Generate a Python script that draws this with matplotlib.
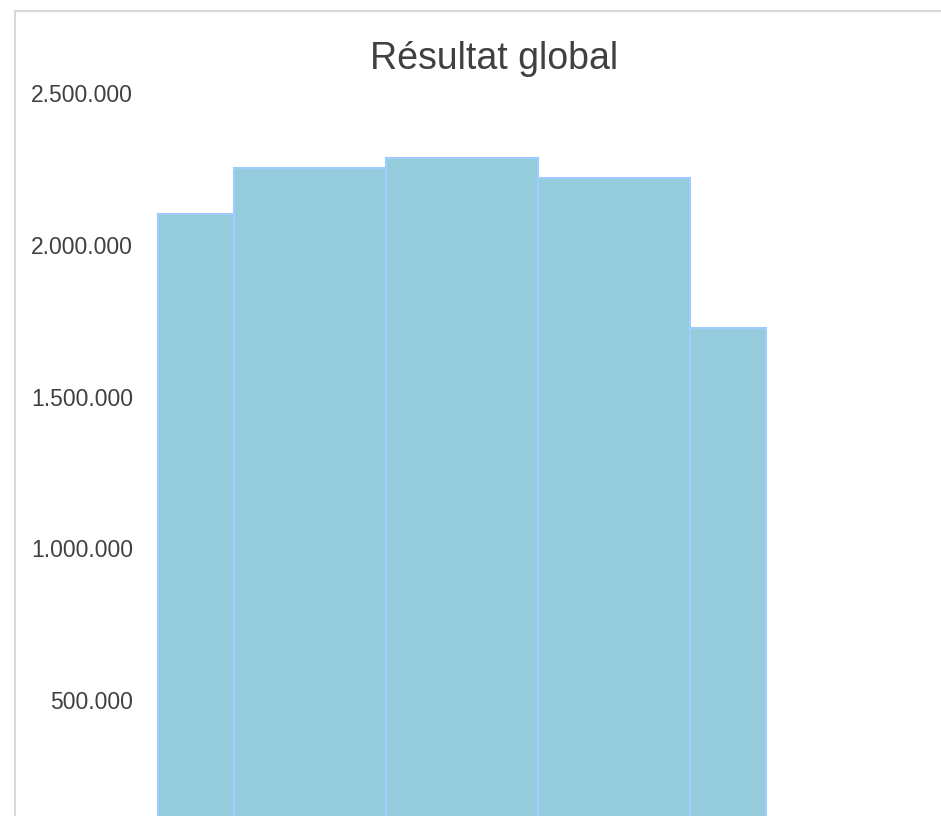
import numpy as np
import matplotlib.pyplot as plt
from matplotlib.ticker import FuncFormatter
from matplotlib.lines import Line2D

plt.rcParams['font.family'] = ['Liberation Sans', 'DejaVu Sans']

title = 'Résultat global'
categories = ['1', '2', '3', '4', '5']
values = [2101000, 2253000, 2286000, 2222000, 1727000]
yticks = [500000, 1000000, 1500000, 2000000, 2500000]

W, H = 941, 816
fig = plt.figure(figsize=(W / 100, H / 100), dpi=100)

# grey frame (top and left edges only are visible)
fig.add_artist(Line2D([15 / W, 15 / W], [0, 1 - 11 / H], color='#d9d9d9', lw=1.5))
fig.add_artist(Line2D([15 / W, 1], [1 - 11 / H, 1 - 11 / H], color='#d9d9d9', lw=1.5))

ax = fig.add_axes([158 / W, 0, (766 - 158) / W, 1 - 93.3 / H])

n = len(values)
x = np.arange(n)
left = np.clip(x - 0.5, 0, n - 1)
right = np.clip(x + 0.5, 0, n - 1)
ax.bar(left, values, width=right - left, align='edge',
       color='#94ccdc', edgecolor='#a0ccff', linewidth=1.5, clip_on=False)

ax.set_xlim(0, n - 1)
ax.set_ylim(118000, 2500000)
ax.set_yticks(yticks)
ax.yaxis.set_major_formatter(FuncFormatter(lambda v, p: f'{int(v):,}'.replace(',', '.')))
ax.tick_params(axis='y', length=0, pad=18, labelsize=16.5, labelcolor='#404040')
ax.set_xticks([])
for s in ax.spines.values():
    s.set_visible(False)

fig.text(494 / W, 1 - 69 / H, title, ha='center', va='baseline', fontsize=27, color='#404040')

fig.savefig('out.png', dpi=100)
